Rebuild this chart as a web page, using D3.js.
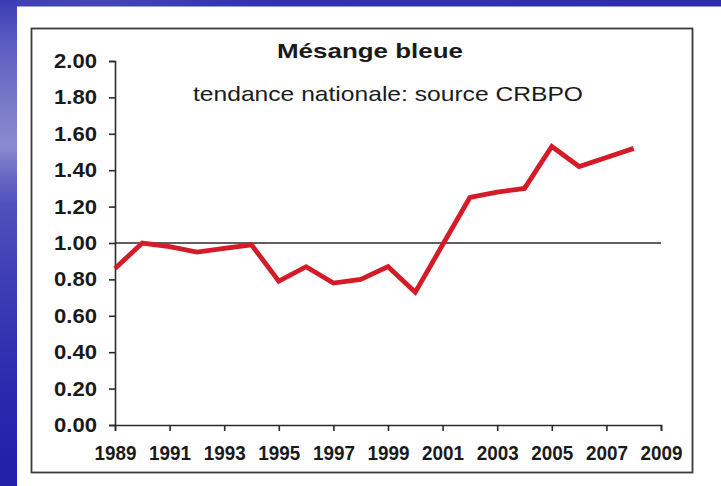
<!DOCTYPE html>
<html>
<head>
<meta charset="utf-8">
<script src="https://cdn.jsdelivr.net/npm/d3@7"></script>
<style>
  html, body { margin: 0; padding: 0; background: #ffffff; }
  svg { display: block; }
  text { font-family: "Liberation Sans", Arial, sans-serif; fill: #1a1a1a; }
</style>
</head>
<body>
<svg id="chart" width="721" height="486"></svg>
<script>
// Blue tit national trend index (CRBPO), base 1.00
const years = [1989, 1990, 1991, 1992, 1993, 1994, 1995, 1996, 1997, 1998,
               1999, 2000, 2001, 2002, 2003, 2004, 2005, 2006, 2007, 2008];
const trend = [0.86, 1.00, 0.98, 0.95, 0.97, 0.99, 0.79, 0.87, 0.78, 0.80,
               0.87, 0.73, 0.99, 1.25, 1.28, 1.30, 1.53, 1.42, 1.47, 1.52];
const referenceLevel = 1.00;
const yTicks = [0, 0.2, 0.4, 0.6, 0.8, 1.0, 1.2, 1.4, 1.6, 1.8, 2.0];
const xTicks = [1989, 1991, 1993, 1995, 1997, 1999, 2001, 2003, 2005, 2007, 2009];
const titleText = "Mésange bleue";
const subtitleText = "tendance nationale: source CRBPO";

const svg = d3.select("#chart");
const W = 721, H = 486;

// slide-style blue background
const defs = svg.append("defs");
const side = defs.append("linearGradient").attr("id", "sideGrad")
  .attr("x1", 0).attr("y1", 0).attr("x2", 0).attr("y2", 1);
[[0, "#3a3ab4"], [0.08, "#5a5ac2"], [0.2, "#7676c8"], [0.3, "#8a8ad0"],
 [0.36, "#6a6ac4"], [0.42, "#5050bc"], [0.6, "#3c3cb4"], [0.8, "#2a2aae"], [1, "#2020a8"]]
  .forEach(([o, c]) => side.append("stop").attr("offset", o).attr("stop-color", c));

const topGrad = defs.append("linearGradient").attr("id", "topGrad")
  .attr("x1", 0).attr("y1", 0).attr("x2", 1).attr("y2", 0);
[[0, "#4040b6"], [0.15, "#4444b8"], [0.35, "#3232b0"], [1, "#2c2cae"]]
  .forEach(([o, c]) => topGrad.append("stop").attr("offset", o).attr("stop-color", c));

svg.append("rect").attr("x", 0).attr("y", 0).attr("width", W).attr("height", H).attr("fill", "#ffffff");
svg.append("rect").attr("x", 0).attr("y", 0).attr("width", W).attr("height", 6.5).attr("fill", "url(#topGrad)");
svg.append("rect").attr("x", 0).attr("y", 0).attr("width", 17).attr("height", H).attr("fill", "url(#sideGrad)");

// chart frame
svg.append("rect")
  .attr("x", 31.5).attr("y", 28.5).attr("width", 661).attr("height", 444)
  .attr("fill", "#ffffff").attr("stroke", "#3a3a3a").attr("stroke-width", 1.8);

const plot = { left: 115, right: 661, top: 61, bottom: 425 };

const x = d3.scaleLinear().domain([1989, 2009]).range([plot.left, plot.right]);
const y = d3.scaleLinear().domain([0, 2]).range([plot.bottom, plot.top]);

// y axis
const yAxis = svg.append("g")
  .attr("transform", `translate(${plot.left},0)`)
  .call(d3.axisLeft(y).tickValues(yTicks).tickFormat(d3.format(".2f")).tickSize(6).tickSizeOuter(6).tickPadding(12));
yAxis.select(".domain").attr("stroke", "#2a2a2a").attr("stroke-width", 1.6);
yAxis.selectAll(".tick line").attr("stroke", "#2a2a2a").attr("stroke-width", 1.6);
yAxis.selectAll(".tick text")
  .attr("font-size", 20).attr("font-weight", "bold")
  .attr("font-family", "Liberation Sans, Arial, sans-serif")
  .attr("fill", "#1a1a1a")
  .attr("textLength", 43).attr("lengthAdjust", "spacingAndGlyphs");

// x axis
const xAxis = svg.append("g")
  .attr("transform", `translate(0,${plot.bottom})`)
  .call(d3.axisBottom(x).tickValues(xTicks).tickFormat(d3.format("d")).tickSize(6).tickSizeOuter(6).tickPadding(15));
xAxis.select(".domain").attr("stroke", "#2a2a2a").attr("stroke-width", 1.6);
xAxis.selectAll(".tick line").attr("stroke", "#2a2a2a").attr("stroke-width", 1.6);
xAxis.selectAll(".tick text")
  .attr("font-size", 20).attr("font-weight", "bold")
  .attr("font-family", "Liberation Sans, Arial, sans-serif")
  .attr("fill", "#1a1a1a")
  .attr("textLength", 42).attr("lengthAdjust", "spacingAndGlyphs");

// baseline at 1.00
svg.append("line")
  .attr("x1", x(1989)).attr("x2", x(2009))
  .attr("y1", y(referenceLevel)).attr("y2", y(referenceLevel))
  .attr("stroke", "#2a2a2a").attr("stroke-width", 1.6);

// trend line
const line = d3.line().x((d, i) => x(years[i])).y(d => y(d));
svg.append("path")
  .datum(trend)
  .attr("d", line)
  .attr("fill", "none")
  .attr("stroke", "#d41c28")
  .attr("stroke-width", 4.8)
  .attr("stroke-linejoin", "miter")
  .attr("stroke-linecap", "butt");

// titles
svg.append("text")
  .attr("x", 370).attr("y", 58)
  .attr("text-anchor", "middle")
  .attr("font-size", 21).attr("font-weight", "bold")
  .attr("textLength", 186).attr("lengthAdjust", "spacingAndGlyphs")
  .text(titleText);

svg.append("text")
  .attr("x", 388).attr("y", 101)
  .attr("text-anchor", "middle")
  .attr("font-size", 21)
  .attr("textLength", 390).attr("lengthAdjust", "spacingAndGlyphs")
  .text(subtitleText);
</script>
</body>
</html>
